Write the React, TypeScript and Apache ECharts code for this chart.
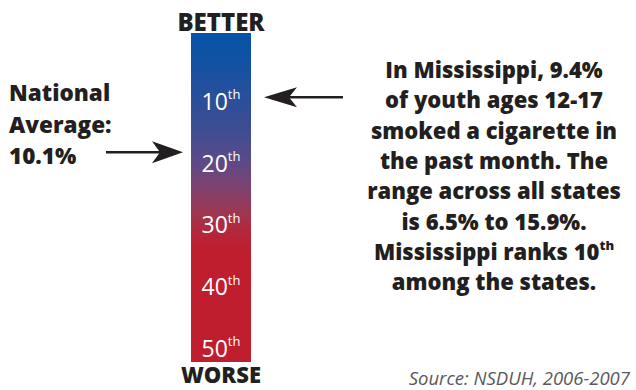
import React, { useEffect, useRef } from 'react';
import * as echarts from 'echarts';

// ---- data ----
const categories = ['Rank'];
const scaleExtent = [-1, 52.3]; // rank scale covered by the bar (top .. bottom)
const rankTicks = [10, 20, 30, 40, 50];
const msArrowRank = 9.4; // where the Mississippi arrow points
const natAvgArrowRank = 18.3; // where the national-average arrow points
const topLabel = 'BETTER';
const bottomLabel = 'WORSE';
const leftLines = ['National', 'Average:', '10.1%'];
const rightLines = [
  'In Mississippi, 9.4%',
  'of youth ages 12-17',
  'smoked a cigarette in',
  'the past month. The',
  'range across all states',
  'is 6.5% to 15.9%.',
  'Mississippi ranks 10{s|th}',
  'among the states.',
];
const sourceText = 'Source: NSDUH, 2006-2007';

const INK = '#231f20';
const FONT = '"Open Sans", "Noto Sans", sans-serif';
const HEAVY = 800;

export default function App() {
  const ref = useRef<HTMLDivElement>(null);

  useEffect(() => {
    if (!ref.current) return;
    const chart = echarts.init(ref.current, null, { renderer: 'svg' });

    const gradient = new echarts.graphic.LinearGradient(0, 0, 0, 1, [
      { offset: 0, color: '#0653a6' },
      { offset: 0.08, color: '#0f52a3' },
      { offset: 0.2, color: '#2a4f9b' },
      { offset: 0.3, color: '#3f4d92' },
      { offset: 0.39, color: '#5c4a88' },
      { offset: 0.46, color: '#7a4372' },
      { offset: 0.54, color: '#9c3853' },
      { offset: 0.61, color: '#b5263a' },
      { offset: 0.66, color: '#be1e2d' },
      { offset: 1, color: '#be1e2d' },
    ]);

    chart.setOption({
      animation: false,
      backgroundColor: '#ffffff',
      grid: { left: 191, width: 60, top: 33, height: 329, outerBoundsMode: 'none', containLabel: false },
      xAxis: {
        type: 'category',
        data: categories,
        show: false,
      },
      yAxis: {
        type: 'value',
        inverse: true,
        min: scaleExtent[0],
        max: scaleExtent[1],
        z: 10,
        axisLine: { show: false },
        axisTick: { show: false },
        splitLine: { show: false },
        axisLabel: {
          inside: true,
          margin: 30,
          align: 'center',
          customValues: rankTicks,
          color: '#ffffff',
          formatter: (v: number) => `{n|${v}}{s|th}`,
          rich: {
            n: { fontSize: 23, fontFamily: FONT, color: '#ffffff', lineHeight: 22 },
            s: { fontSize: 13, fontFamily: FONT, color: '#ffffff', lineHeight: 13, verticalAlign: 'top', padding: [-2, 0, 0, 0] },
          },
        },
      },
      series: [
        {
          type: 'custom',
          data: [[0, scaleExtent[0], scaleExtent[1]]],
          encode: { x: 0, y: [1, 2] },
          renderItem: (params: any, api: any) => {
            const cs = params.coordSys;
            const p0 = api.coord([api.value(0), api.value(1)]);
            const p1 = api.coord([api.value(0), api.value(2)]);
            return {
              type: 'rect',
              shape: { x: cs.x, y: Math.min(p0[1], p1[1]), width: cs.width, height: Math.abs(p1[1] - p0[1]) },
              style: { fill: gradient },
            };
          },
        },
      ],
    });

    const yOf = (r: number) => chart.convertToPixel({ yAxisIndex: 0 }, r) as unknown as number;
    const cx = chart.convertToPixel({ xAxisIndex: 0 }, 0) as unknown as number;
    const barTop = yOf(scaleExtent[0]);
    const barBottom = yOf(scaleExtent[1]);
    const barLeft = cx - 30;
    const barRight = cx + 30;
    const yMs = yOf(msArrowRank);
    const yNat = yOf(natAvgArrowRank);

    const arrowRight = (tipX: number, y: number, tailX: number) => [
      { type: 'line', shape: { x1: tailX, y1: y, x2: tipX - 20, y2: y }, style: { stroke: INK, lineWidth: 2.5 } },
      {
        type: 'polygon',
        shape: { points: [[tipX, y], [tipX - 31, y - 11], [tipX - 23, y], [tipX - 31, y + 11]] },
        style: { fill: INK },
      },
    ];
    const arrowLeft = (tipX: number, y: number, tailX: number) => [
      { type: 'line', shape: { x1: tipX + 20, y1: y, x2: tailX, y2: y }, style: { stroke: INK, lineWidth: 2.5 } },
      {
        type: 'polygon',
        shape: { points: [[tipX, y], [tipX + 33, y - 10], [tipX + 25, y], [tipX + 33, y + 10]] },
        style: { fill: INK },
      },
    ];

    chart.setOption({
      graphic: [
        {
          type: 'text',
          x: cx,
          y: barTop - 12,
          style: { text: topLabel, align: 'center', verticalAlign: 'middle', fontSize: 24, fontWeight: HEAVY, fontFamily: FONT, fill: INK },
        },
        {
          type: 'text',
          x: cx,
          y: barBottom + 12,
          style: { text: bottomLabel, align: 'center', verticalAlign: 'middle', fontSize: 22, lineHeight: 20, fontWeight: HEAVY, fontFamily: FONT, fill: INK },
        },
        {
          type: 'text',
          x: 9,
          y: 77,
          style: {
            text: leftLines.join('\n'),
            align: 'left',
            verticalAlign: 'top',
            fontSize: 22.5,
            fontWeight: HEAVY,
            fontFamily: FONT,
            lineHeight: 31.5,
            fill: INK,
          },
        },
        {
          type: 'text',
          x: 494,
          y: 54,
          style: {
            text: rightLines.join('\n'),
            align: 'center',
            verticalAlign: 'top',
            fontSize: 22,
            fontWeight: HEAVY,
            fontFamily: FONT,
            lineHeight: 30.3,
            fill: INK,
            rich: {
              s: { fontSize: 13, fontWeight: HEAVY, fontFamily: FONT, fill: INK, lineHeight: 14, verticalAlign: 'top', padding: [3, 0, 0, 0] },
            },
          },
        },
        {
          type: 'text',
          x: 630,
          y: 377,
          style: { text: sourceText, align: 'right', verticalAlign: 'middle', fontSize: 18.5, lineHeight: 20, fontStyle: 'italic', fontFamily: FONT, fill: '#58595b' },
        },
        ...arrowRight(barLeft - 8, yNat, 106),
        ...arrowLeft(barRight + 13, yMs, 343),
      ],
    });

    return () => chart.dispose();
  }, []);

  return <div ref={ref} style={{ width: 636, height: 390, position: 'absolute', left: 0, top: 0 }} />;
}
